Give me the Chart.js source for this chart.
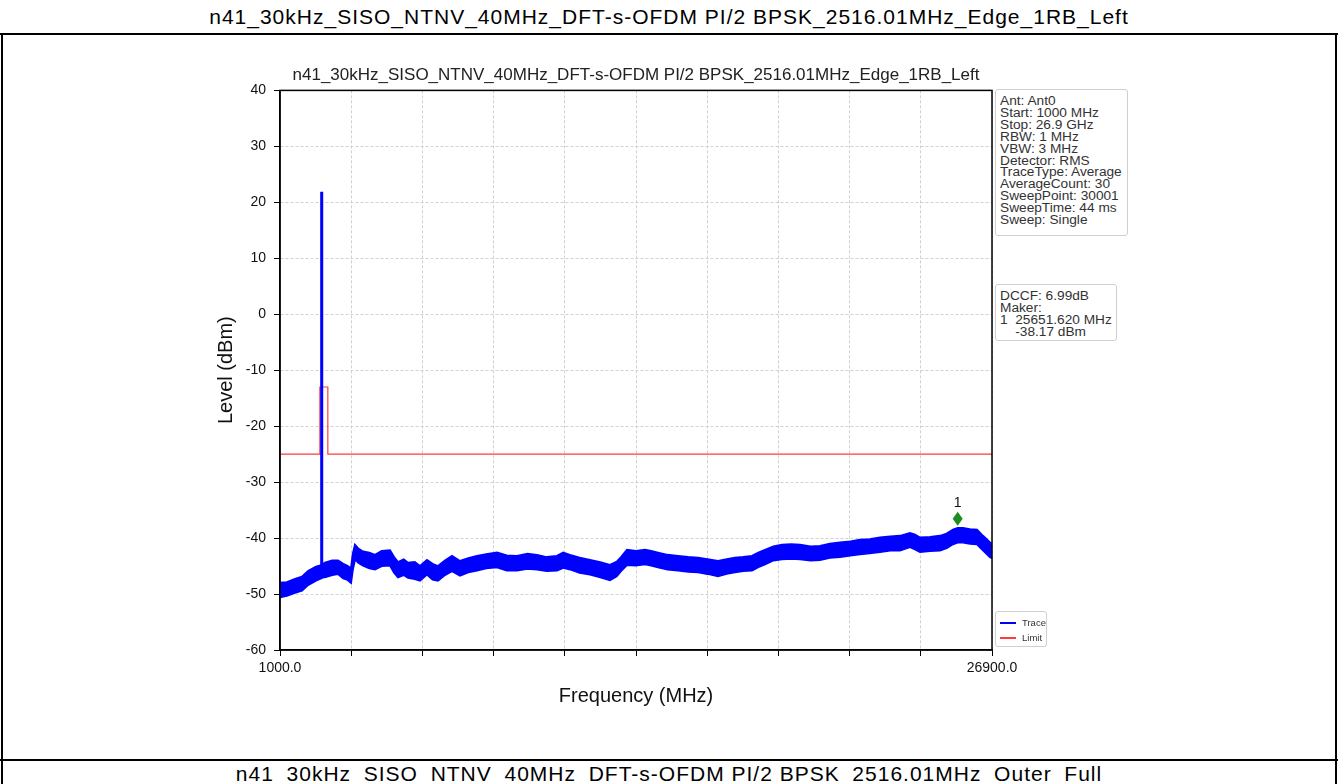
<!DOCTYPE html>
<html lang="en">
<head>
    <meta charset="UTF-8">
    <title>n41 Edge 1RB Left</title>
    <style>
        body {
            margin: 0;
            width: 1338px;
            height: 784px;
            overflow: hidden;
            background: #fff;
            font-family: 'Liberation Sans', Arial, sans-serif;
            position: relative;
        }
        .rowTitle {
            position: absolute;
            left: 0;
            width: 1338px;
            text-align: center;
            font-size: 21px;
            letter-spacing: 1px;
            color: #000;
            white-space: nowrap;
        }
        .hline { position: absolute; left: 0; width: 1338px; height: 2px; background: #000; }
        .vline { position: absolute; width: 2px; background: #000; }
        #chartBox { position: absolute; left: 0; top: 0; width: 1338px; height: 784px; }
        .info {
            position: absolute;
            border: 1px solid #cfcfcf;
            border-radius: 3px;
            background: #fff;
            box-sizing: border-box;
            font-size: 13.7px;
            line-height: 11.9px;
            color: #333;
            padding: 5px 0 0 4px;
            white-space: pre;
        }
        .legend {
            position: absolute;
            left: 995px; top: 611px; width: 52px; height: 36px;
            border: 1px solid #cfcfcf;
            border-radius: 3px;
            box-sizing: border-box;
            font-size: 9.5px;
            color: #333;
        }
        .legend .item { position: absolute; left: 4px; height: 12px; }
        .legend .swatch { position: absolute; left: 0; top: 5px; width: 16px; height: 2px; }
        .legend .lbl { position: absolute; left: 22px; top: 0; line-height: 12px; }
    </style>
    <script src="https://cdn.jsdelivr.net/npm/chart.js"></script>
</head>
<body>
    <div class="rowTitle" style="top:5px;">n41_30kHz_SISO_NTNV_40MHz_DFT-s-OFDM PI/2 BPSK_2516.01MHz_Edge_1RB_Left</div>
    <div class="hline" style="top:33px;"></div>
    <div class="hline" style="top:759px;"></div>
    <div class="vline" style="left:1px; top:33px; height:751px;"></div>
    <div class="vline" style="left:1335px; top:33px; height:751px;"></div>
    <div class="rowTitle" style="top:762px;">n41_30kHz_SISO_NTNV_40MHz_DFT-s-OFDM PI/2 BPSK_2516.01MHz_Outer_Full</div>

    <div id="chartBox"><canvas id="spectrum"></canvas></div>

    <div class="info" style="left:995px; top:89px; width:133px; height:147px;">Ant: Ant0
Start: 1000 MHz
Stop: 26.9 GHz
RBW: 1 MHz
VBW: 3 MHz
Detector: RMS
TraceType: Average
AverageCount: 30
SweepPoint: 30001
SweepTime: 44 ms
Sweep: Single</div>
    <div class="info" style="left:995px; top:284px; width:122px; height:57px;">DCCF: 6.99dB
Maker:
1  25651.620 MHz
    -38.17 dBm</div>

    <div class="legend">
        <div class="item" style="top:5px;"><div class="swatch" style="background:#0000ff"></div><div class="lbl">Trace</div></div>
        <div class="item" style="top:20px;"><div class="swatch" style="background:#ff3b3b"></div><div class="lbl">Limit</div></div>
    </div>

    <script>
        // trace drawn as a band: upper and lower edge (dBm)
        const traceFreq = [1000, 1250, 1546, 1800, 2019, 2310, 2455, 2496, 2498, 2534, 2536, 2637, 2900, 3110, 3300, 3437, 3583, 3650, 3728, 3850,
            4019, 4250, 4456, 4700, 5001, 5150, 5292, 5500, 5656, 5900, 6093, 6347, 6550, 6747, 7000, 7257, 7548, 7850, 8166, 8500,
            8894, 9250, 9621, 10000, 10349, 10700, 11076, 11300, 11549, 11900, 12277, 12650, 13004, 13250, 13404, 13622, 13950, 14277, 14500, 14750,
            15100, 15478, 15850, 16205, 16550, 16933, 17250, 17551, 17850, 18169, 18400, 18642, 18950, 19261, 19600, 19916, 20300, 20643, 21000, 21371,
            21750, 22098, 22450, 22826, 23200, 23553, 23917, 24100, 24281, 24650, 25008, 25250, 25481, 25650, 25845, 26100, 26354, 26572, 26827, 26900];
        const traceUpper = [-48.0, -47.9, -47.3, -46.9, -45.9, -45.1, -44.9, -45.0, 21.7, 21.7, -44.8, -44.4, -44.0, -44.0, -44.6, -44.9, -45.4, -42.8, -41.2, -41.9,
            -42.4, -42.6, -43.0, -42.3, -42.2, -43.4, -44.3, -43.8, -44.4, -44.3, -45.0, -43.9, -44.6, -45.0, -44.0, -43.2, -44.1, -43.6, -43.2, -42.9,
            -42.6, -43.1, -43.2, -42.8, -43.0, -43.4, -43.2, -42.6, -43.0, -43.5, -43.9, -44.3, -44.8, -44.2, -43.4, -42.1, -42.3, -42.1, -42.3, -42.6,
            -43.0, -43.2, -43.4, -43.5, -43.8, -44.1, -43.8, -43.5, -43.4, -43.2, -42.6, -42.1, -41.5, -41.2, -41.1, -41.2, -41.5, -41.4, -41.0, -40.8,
            -40.6, -40.3, -40.2, -39.9, -39.7, -39.6, -39.1, -39.4, -39.9, -39.8, -39.6, -39.2, -38.5, -38.2, -38.2, -38.4, -38.5, -39.6, -40.8, -41.0];
        const traceLower = [-50.6, -50.3, -49.8, -49.4, -48.4, -47.6, -47.3, -47.2, -47.1, -47.1, -47.0, -47.0, -46.6, -46.4, -47.2, -47.4, -48.0, -45.6, -43.8, -44.4,
            -44.9, -45.4, -45.6, -45.0, -44.9, -46.2, -47.0, -46.6, -47.1, -47.3, -47.6, -46.5, -47.4, -47.6, -46.6, -45.9, -46.7, -46.1, -45.8, -45.4,
            -45.2, -45.8, -45.8, -45.5, -45.6, -45.9, -45.8, -45.3, -45.6, -46.2, -46.5, -47.0, -47.5, -46.8, -45.9, -44.8, -44.9, -44.7, -44.9, -45.2,
            -45.6, -45.8, -46.0, -46.1, -46.4, -46.8, -46.4, -46.1, -45.9, -45.8, -45.2, -44.7, -44.0, -43.8, -43.7, -43.8, -44.0, -43.9, -43.5, -43.4,
            -43.1, -42.9, -42.7, -42.5, -42.2, -42.2, -41.6, -42.0, -42.5, -42.3, -42.2, -41.8, -41.1, -40.8, -40.8, -41.0, -41.1, -42.2, -43.4, -43.6];

        const limitFreq = [1000, 2450, 2450, 2740, 2740, 26900];
        const limitLevel = [-25, -25, -13, -13, -25, -25];

        const markerFreq = [25651.62];
        const markerLevel = [-38.17];
        const markerLabel = ['1'];

        const freqMin = 1000, freqMax = 26900, freqStep = 2590;
        const levelMin = -60, levelMax = 40, levelStep = 10;

        const FONT = "'Liberation Sans', Arial, sans-serif";
        const pts = (xs, ys) => xs.map((x, i) => ({ x: x, y: ys[i] }));

        // black box round the plot area
        const frame = {
            id: 'frame',
            afterDraw(chart) {
                const a = chart.chartArea, ctx = chart.ctx;
                ctx.save();
                ctx.strokeStyle = '#000';
                ctx.lineWidth = 1.5;
                ctx.strokeRect(a.left, a.top, a.right - a.left, a.bottom - a.top);
                ctx.restore();
            }
        };

        // marker diamond sits a little above the marker point, with its number
        const markers = {
            id: 'markers',
            afterDatasetsDraw(chart) {
                const ctx = chart.ctx, sx = chart.scales.x, sy = chart.scales.y;
                ctx.save();
                markerFreq.forEach((f, i) => {
                    const x = sx.getPixelForValue(f);
                    const y = sy.getPixelForValue(markerLevel[i]) - 9;
                    ctx.fillStyle = '#1e8c1e';
                    ctx.beginPath();
                    ctx.moveTo(x, y - 7);
                    ctx.lineTo(x + 5, y);
                    ctx.lineTo(x, y + 7);
                    ctx.lineTo(x - 5, y);
                    ctx.closePath();
                    ctx.fill();
                    ctx.fillStyle = '#111';
                    ctx.font = '14px ' + FONT;
                    ctx.textAlign = 'center';
                    ctx.textBaseline = 'middle';
                    ctx.fillText(markerLabel[i], x, y - 16);
                });
                ctx.restore();
            }
        };

        new Chart(document.getElementById('spectrum'), {
            type: 'line',
            data: {
                datasets: [
                    {
                        label: 'Trace',
                        data: pts(traceFreq, traceUpper),
                        borderColor: '#0000ff',
                        borderWidth: 2,
                        pointRadius: 0,
                        fill: false
                    },
                    {
                        label: 'Trace (low edge)',
                        data: pts(traceFreq, traceLower),
                        borderColor: '#0000ff',
                        backgroundColor: '#0000ff',
                        borderWidth: 2,
                        pointRadius: 0,
                        fill: '-1'
                    },
                    {
                        label: 'Limit',
                        data: pts(limitFreq, limitLevel),
                        borderColor: '#ff3b3b',
                        borderWidth: 1.2,
                        pointRadius: 0,
                        fill: false
                    }
                ]
            },
            options: {
                responsive: true,
                maintainAspectRatio: false,
                animation: false,
                layout: { padding: { left: 200, right: 346, top: 0, bottom: 0 } },
                plugins: {
                    legend: { display: false },
                    tooltip: { enabled: false },
                    title: {
                        display: true,
                        fullSize: false,
                        text: 'n41_30kHz_SISO_NTNV_40MHz_DFT-s-OFDM PI/2 BPSK_2516.01MHz_Edge_1RB_Left',
                        color: '#222',
                        font: { family: FONT, size: 17, weight: 'normal' },
                        padding: { top: 65, bottom: 5 }
                    }
                },
                scales: {
                    x: {
                        type: 'linear',
                        min: freqMin,
                        max: freqMax,
                        afterFit(s) { s.height = 134; },
                        ticks: {
                            stepSize: freqStep,
                            autoSkip: false,
                            maxRotation: 0,
                            color: '#111',
                            padding: 4,
                            font: { family: FONT, size: 14 },
                            callback: (v) => (v === freqMin || v === freqMax) ? v.toFixed(1) : ''
                        },
                        grid: { color: '#d0d0d0', tickColor: '#000', tickLength: 6 },
                        border: { color: '#000', width: 1.5, dash: [3, 2] },
                        title: {
                            display: true,
                            text: 'Frequency (MHz)',
                            color: '#111',
                            font: { family: FONT, size: 20 },
                            padding: { top: 0, bottom: 76 }
                        }
                    },
                    y: {
                        min: levelMin,
                        max: levelMax,
                        afterFit(s) { s.width = 80; },
                        ticks: {
                            stepSize: levelStep,
                            color: '#111',
                            padding: 8,
                            font: { family: FONT, size: 14 }
                        },
                        grid: { color: '#d0d0d0', tickColor: '#000', tickLength: 6 },
                        border: { color: '#000', width: 1.5, dash: [3, 2] },
                        title: {
                            display: true,
                            text: 'Level (dBm)',
                            color: '#111',
                            font: { family: FONT, size: 20 },
                            padding: { top: 14, bottom: 0 }
                        }
                    }
                }
            },
            plugins: [frame, markers]
        });
    </script>
</body>
</html>
